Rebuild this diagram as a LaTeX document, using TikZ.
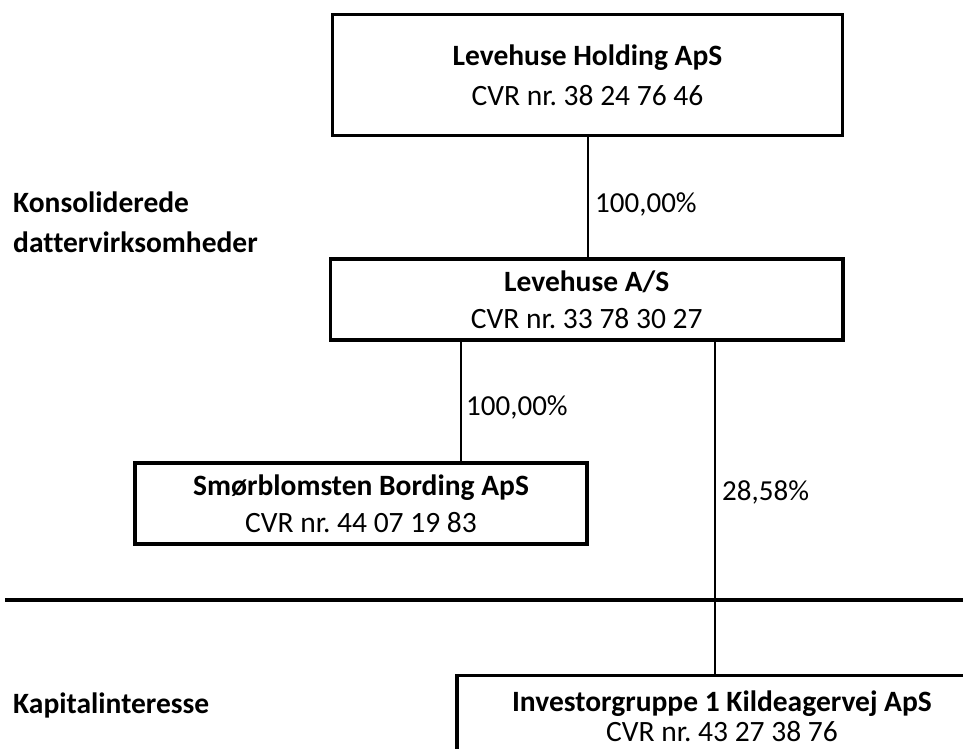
\documentclass[tikz,border=0pt]{standalone}
\usepackage{fontspec}
\setmainfont[Ligatures=NoCommon]{Carlito}
\frenchspacing
\begin{document}
\begin{tikzpicture}[x=1pt,y=-1pt,
  box/.style={draw, line width=3.3pt, align=center, inner sep=0pt, font=\fontsize{29.5}{37}\selectfont},
  conn/.style={line width=2pt},
  lbl/.style={anchor=west, inner sep=0pt, font=\fontsize{29}{34}\selectfont},
  side/.style={anchor=west, inner sep=0pt, align=left, font=\bfseries\fontsize{29.5}{40}\selectfont}]
\useasboundingbox (0,0) rectangle (963,749);

\node[box, minimum width=510pt, minimum height=120.5pt] (b1) at (587.5,75) {\textbf{Levehuse Holding ApS}\\[3pt]CVR nr. 38 24 76 46};
\node[box, minimum width=512.5pt, minimum height=81pt] (b2) at (586.75,299.5) {\textbf{Levehuse A/S}\\CVR nr. 33 78 30 27};
\node[box, minimum width=452pt, minimum height=81pt] (b3) at (361,503.5) {\textbf{Smørblomsten Bording ApS}\\CVR nr. 44 07 19 83};
\node[box, minimum width=530pt, minimum height=81pt, font=\fontsize{29.5}{30}\selectfont] (b4) at (722,716) {\textbf{Investorgruppe 1 Kildeagervej ApS}\\CVR nr. 43 27 38 76};

\node[side] (s1) at (13,222) {Konsoliderede\\dattervirksomheder};
\node[side] (s2) at (13,705) {Kapitalinteresse};

\coordinate (t1) at (b1.south);
\coordinate (t2) at (461,340);
\coordinate (t3) at (715,340);
\draw[conn] (t1) -- (t1 |- b2.north);
\draw[conn] (t2) -- (t2 |- b3.north);
\draw[conn, line width=1.6pt] (t3) -- (t3 |- b4.north);

\node[lbl] (p1) at (595,204) {100,00\%};
\node[lbl] (p2) at (466,407) {100,00\%};
\node[lbl] (p3) at (722,492) {28,58\%};

\coordinate (hl) at (5,600);
\coordinate (hr) at (963,600);
\draw[line width=3.5pt] (hl) -- (hr);
\end{tikzpicture}
\end{document}
